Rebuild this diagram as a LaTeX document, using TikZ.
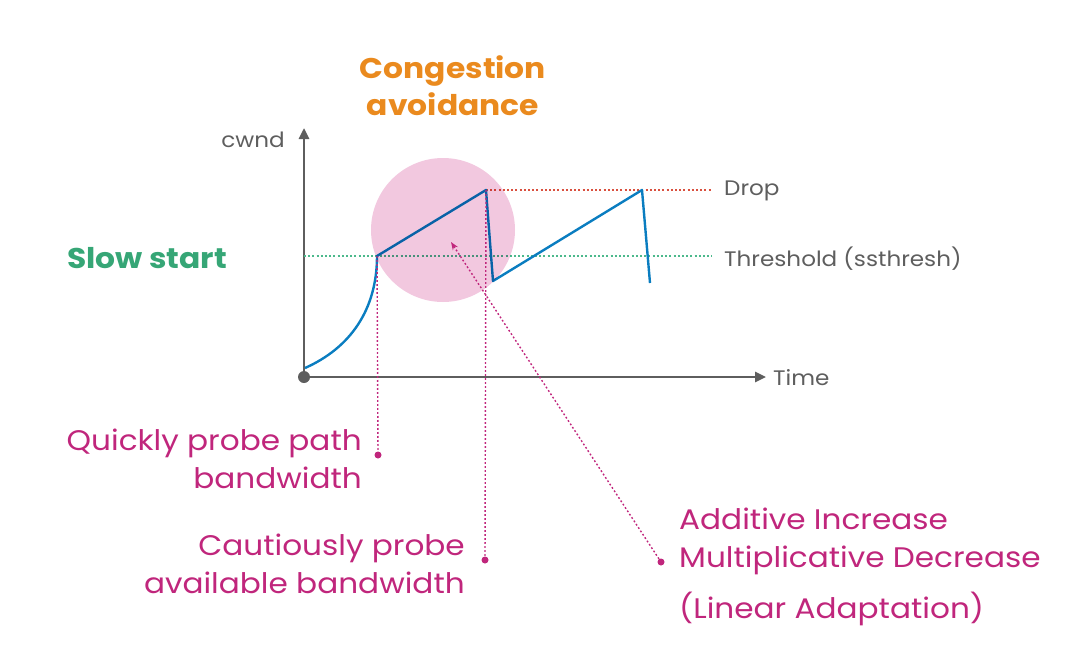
\documentclass[tikz,border=0pt]{standalone}
\usepackage{fontspec}
\setmainfont{Poppins}[FakeStretch=1.1]
\usepackage{xcolor}
\usetikzlibrary{positioning,arrows.meta,calc}

\definecolor{axisgray}{HTML}{5E5E5E}
\definecolor{cwndblue}{HTML}{0A7DC0}
\definecolor{probemag}{HTML}{C0267C}
\definecolor{ssgreen}{HTML}{36A676}
\definecolor{lvlgreen}{HTML}{4CB98C}
\definecolor{caorange}{HTML}{EA8A1E}
\definecolor{droprd}{HTML}{D9503F}
\definecolor{zonepink}{HTML}{F2C8DF}

\begin{document}
\begin{tikzpicture}[
  x=1pt, y=-1pt,
  axis/.style={draw=axisgray, line width=2.6pt, -{Triangle[length=11pt, width=10pt]}},
  curve/.style={draw=cwndblue, line width=2.4pt, line join=round},
  level/.style={line width=1.4pt, dash pattern=on 2pt off 2.2pt},
  pointer/.style={draw=probemag, line width=1.4pt, dash pattern=on 1.8pt off 2.2pt},
  tag/.style={text=axisgray, font=\fontsize{21}{26}\selectfont, inner sep=0pt},
  phase/.style={font=\bfseries\fontsize{28.5}{37}\selectfont, align=center, inner sep=0pt},
  note/.style={text=probemag, font=\fontsize{28.3}{37.5}\selectfont, inner sep=0pt},
  enddot/.style={circle, fill=probemag, inner sep=0pt, minimum size=7pt}
]
\useasboundingbox (0,0) rectangle (1074,664);

% axes
\coordinate (origin) at (304,377);
\coordinate (ytop) at (304,128);
\coordinate (xend) at (766,377);
\draw[axis] (origin) -- (ytop);
\draw[axis] (origin) -- (xend);
\fill[axisgray] (origin) circle (6);
\node[tag, anchor=east] (cwnd) at (285,140) {cwnd};
\node[tag, anchor=west] (time) at (773,378) {Time};

% levels
\node[tag, anchor=west] (drop) at (724,191) {Drop};
\node[tag, anchor=west] (thresh) at (724,259) {Threshold (ssthresh)};
\coordinate (tstart) at (304,256);
\coordinate (dstart) at (486,190);
\draw[level, draw=lvlgreen] (tstart) -- (712,256);
\draw[level, draw=droprd] (dstart) -- (712,190);

% congestion window
\coordinate (c0) at (305,368);
\coordinate (c1) at (377,256);
\coordinate (c2) at (486,190);
\coordinate (c3) at (493,281);
\coordinate (c4) at (642,190);
\coordinate (c5) at (650,283);
\draw[curve] (c0) .. controls (350,348) and (377,310) .. (c1)
  -- (c2) -- (c3) -- (c4) -- (c5);

% highlighted congestion avoidance zone
\fill[zonepink, blend mode=multiply] (443,230) circle (72);

% phase labels
\node[phase, text=caorange] (avoid) at (453,86) {Congestion\\avoidance};
\node[phase, text=ssgreen, anchor=west] (slow) at (67,258) {Slow start};

% annotations
\node[enddot] (d1) at (378,455) {};
\node[enddot] (d2) at (485,560) {};
\node[enddot] (d3) at (661,562) {};
\draw[pointer] (c1) -- (d1);
\draw[pointer] (c2) -- (d2);
\coordinate (aimd) at (451,242);
\draw[pointer, -{Stealth[length=8pt, width=6pt]}] (d3) -- (aimd);

\node[note, anchor=east, align=right] (quick) at (362,459) {Quickly probe path\\bandwidth};
\node[note, anchor=east, align=right] (caut) at (465,564) {Cautiously probe\\available bandwidth};
\node[note, anchor=north west, align=left] (linear) at (679,508) {Additive Increase\\Multiplicative Decrease\\[14pt](Linear Adaptation)};

\end{tikzpicture}
\end{document}
